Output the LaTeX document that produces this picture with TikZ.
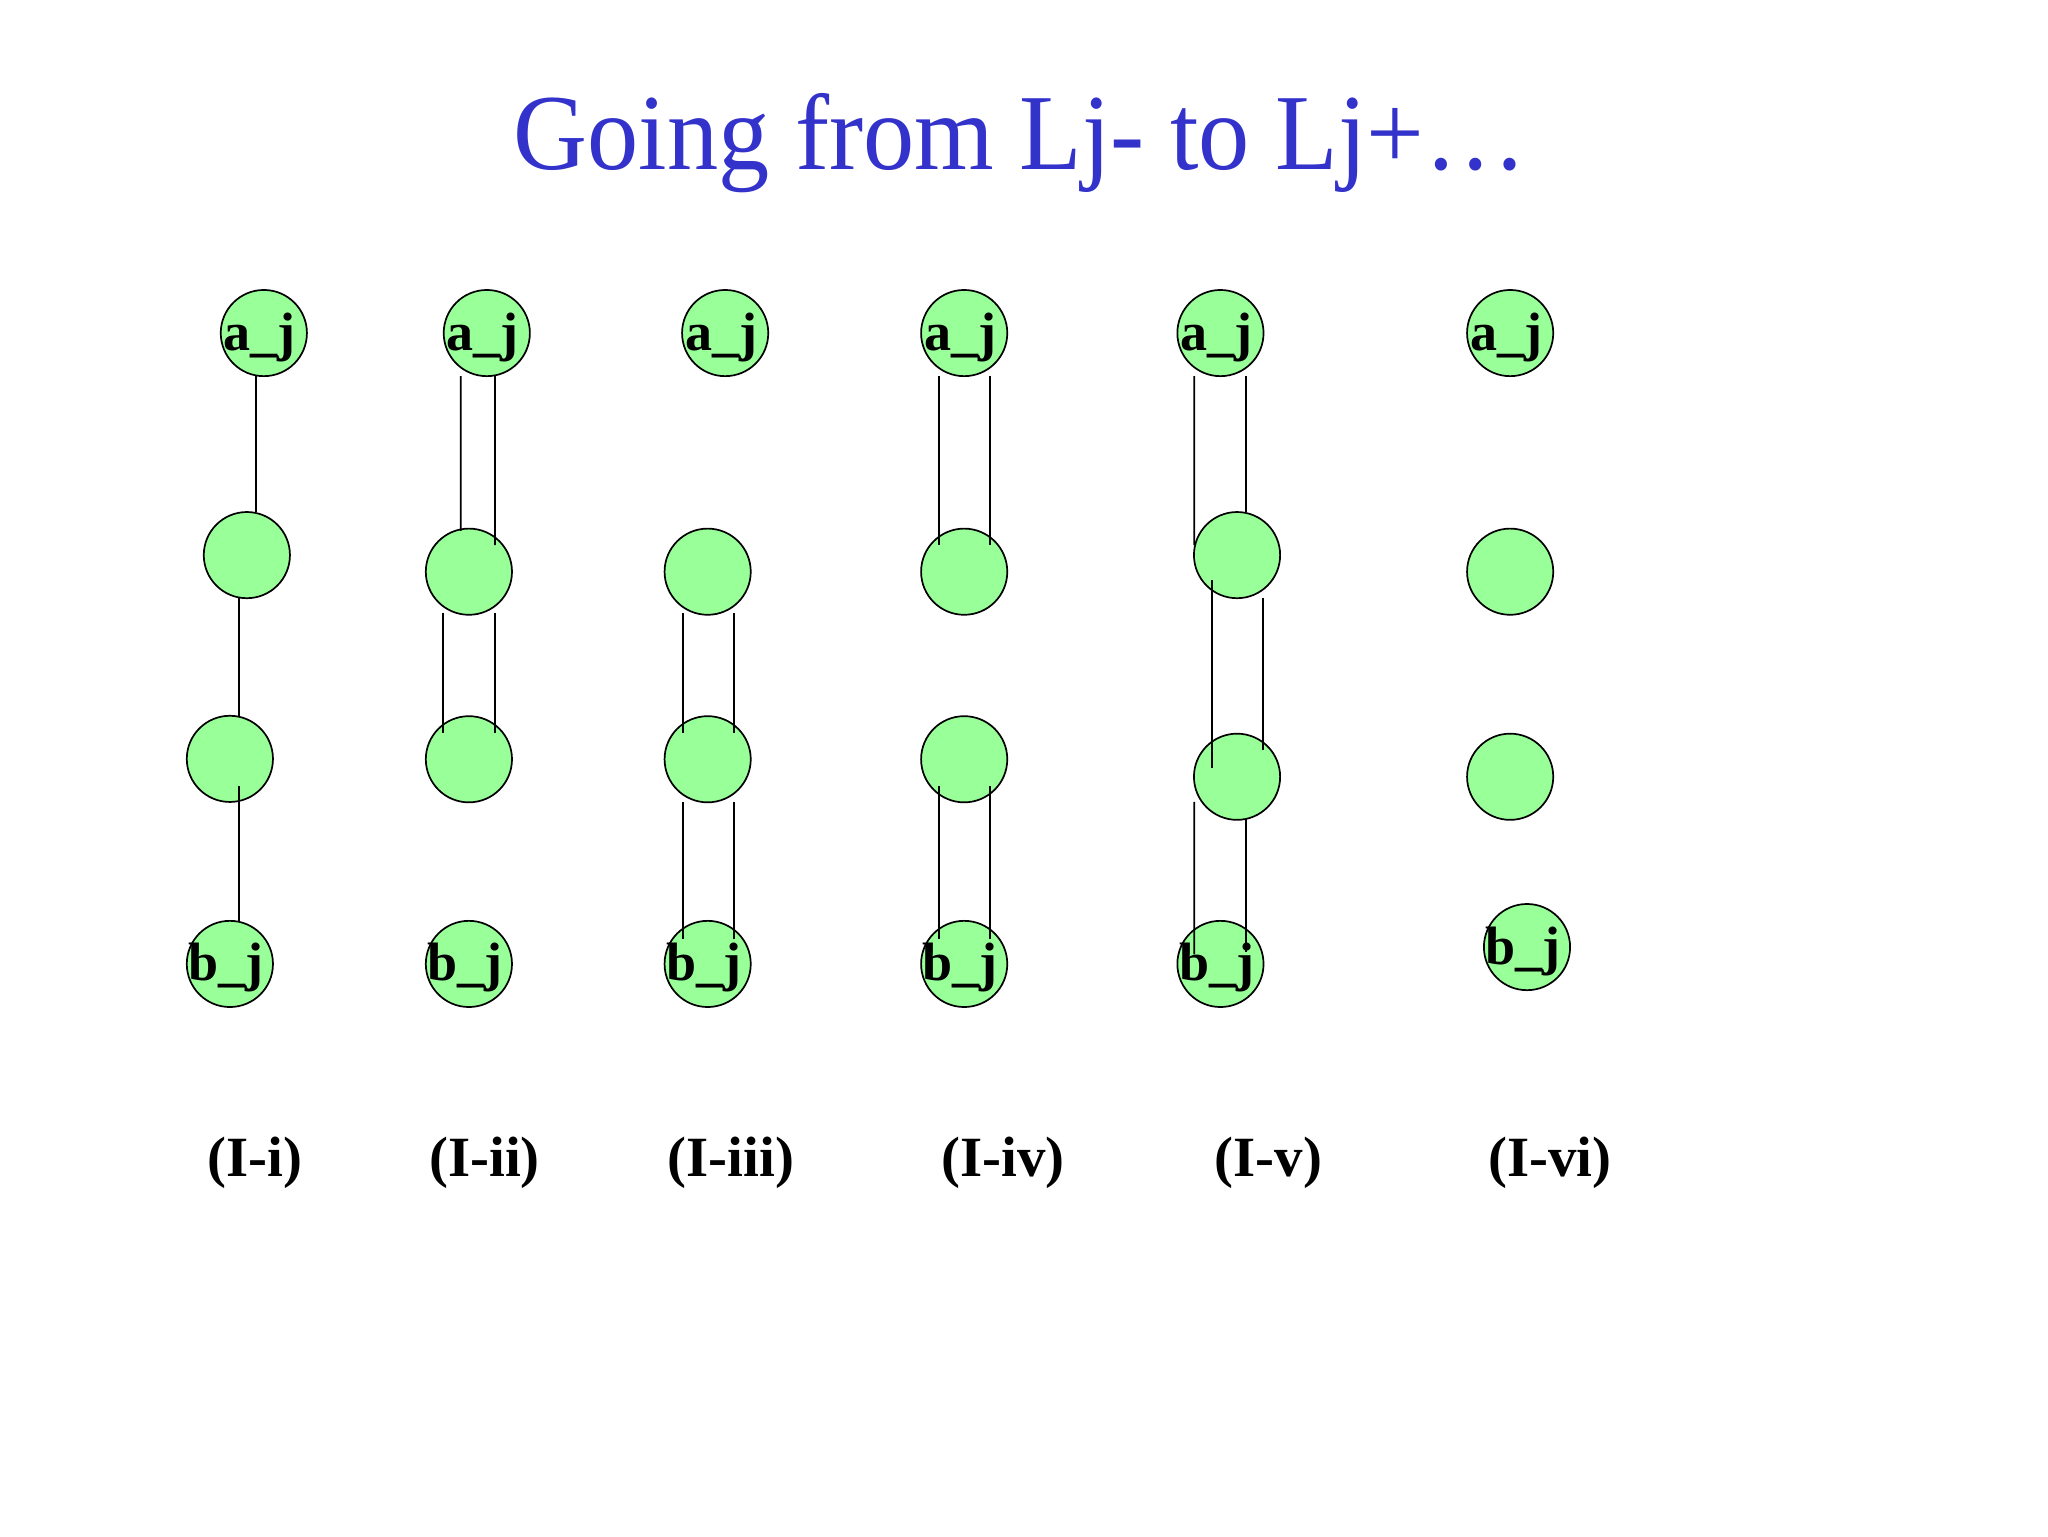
\documentclass[tikz,border=0pt]{standalone}
\usepackage{fontspec}
\setmainfont{Liberation Serif}
\newfontfamily\titlefont[FakeStretch=0.947]{Liberation Serif}
\usetikzlibrary{calc}
\definecolor{titleblue}{RGB}{51,51,204}
\definecolor{nodegreen}{RGB}{153,255,153}
\begin{document}
\begin{tikzpicture}[x=0.4592pt,y=-0.4592pt,
  vert/.style={circle,draw=black,line width=0.6pt,fill=nodegreen,minimum size=30.3pt,inner sep=0pt},
  vlabel/.style={anchor=base,inner sep=0pt,font=\fontsize{19}{19}\selectfont\bfseries},
  caselabel/.style={anchor=base,inner sep=0pt,font=\fontsize{20}{20}\selectfont\bfseries},
  conn/.style={line width=0.6pt,draw=black}]
\useasboundingbox (0,0) rectangle (1568,1176);
\node[anchor=base,inner sep=0pt,text=titleblue,font=\titlefont\fontsize{38}{38}\selectfont] (title) at (781,130) {Going from Lj- to Lj+…};
% column 1
\node[vert] (c1a) at (202,255) {};
\node[vert] (c1m) at (189,425) {};
\node[vert] (c1n) at (176,581) {};
\node[vert] (c1b) at (176,738) {};
% column 2
\node[vert] (c2a) at (372.7,255) {};
\node[vert] (c2m) at (359,437.7) {};
\node[vert] (c2n) at (359,581.3) {};
\node[vert] (c2b) at (359,738) {};
% column 3
\node[vert] (c3a) at (555.2,255) {};
\node[vert] (c3m) at (541.8,437.7) {};
\node[vert] (c3n) at (541.8,581.3) {};
\node[vert] (c3b) at (541.8,738) {};
% column 4
\node[vert] (c4a) at (738.2,255) {};
\node[vert] (c4m) at (738.2,437.7) {};
\node[vert] (c4n) at (738.2,581.3) {};
\node[vert] (c4b) at (738.2,738) {};
% column 5
\node[vert] (c5a) at (934.4,255) {};
\node[vert] (c5m) at (947.1,425) {};
\node[vert] (c5n) at (947.1,594.7) {};
\node[vert] (c5b) at (934.4,738) {};
% column 6
\node[vert] (c6a) at (1156.2,255) {};
\node[vert] (c6m) at (1156.2,437.7) {};
\node[vert] (c6n) at (1156.2,594.7) {};
\node[vert] (c6b) at (1169.1,725.1) {};
% vertex labels
\foreach \c in {c1,c2,c3,c4,c5,c6}{
  \node[vlabel] (\c alab) at ($(\c a)+(-3,13)$) {a\_j};
  \node[vlabel] (\c blab) at ($(\c b)+(-3,13)$) {b\_j};
}
% connectors column 1
\draw[conn] ($(c1a)+(-6,33)$) -- ($(c1m)+(7,-33)$);
\draw[conn] ($(c1m)+(-6,33)$) -- ($(c1n)+(7,-32)$);
\draw[conn] ($(c1n)+(7,21)$) -- ($(c1b)+(7,-32)$);
% connectors column 2
\draw[conn] ($(c2a)+(-20,33)$) -- ($(c2m)+(-6.3,-31.3)$);
\draw[conn] ($(c2a)+(6.3,33)$) -- ($(c2m)+(20,-20.3)$);
\draw[conn] ($(c2m)+(-19.6,32)$) -- ($(c2n)+(-19.6,-19.9)$);
\draw[conn] ($(c2m)+(20,32)$) -- ($(c2n)+(20,-19.9)$);
% connectors column 3
\draw[conn] ($(c3m)+(-19.1,32)$) -- ($(c3n)+(-19.1,-19.9)$);
\draw[conn] ($(c3m)+(20.2,32)$) -- ($(c3n)+(20.2,-19.9)$);
\draw[conn] ($(c3n)+(-19.1,32.7)$) -- ($(c3b)+(-19.1,-19.1)$);
\draw[conn] ($(c3n)+(20.2,32.7)$) -- ($(c3b)+(20.2,-19.1)$);
% connectors column 4
\draw[conn] ($(c4a)+(-19.2,33)$) -- ($(c4m)+(-19.2,-20.3)$);
\draw[conn] ($(c4a)+(19.8,33)$) -- ($(c4m)+(19.8,-20.3)$);
\draw[conn] ($(c4n)+(-19.2,20.4)$) -- ($(c4b)+(-19.2,-19.1)$);
\draw[conn] ($(c4n)+(19.8,20.4)$) -- ($(c4b)+(19.8,-19.1)$);
% connectors column 5
\draw[conn] ($(c5a)+(-20,33)$) -- ($(c5m)+(-32.7,-7.6)$);
\draw[conn] ($(c5a)+(19.4,33)$) -- ($(c5m)+(6.7,-33.3)$);
\draw[conn] ($(c5m)+(-19.4,19.1)$) -- ($(c5n)+(-19.4,-7)$);
\draw[conn] ($(c5m)+(19.7,32.7)$) -- ($(c5n)+(19.7,-20.5)$);
\draw[conn] ($(c5n)+(-32.7,19.3)$) -- ($(c5b)+(-20,-7.4)$);
\draw[conn] ($(c5n)+(6.7,32.6)$) -- ($(c5b)+(19.4,-9.3)$);
% case labels
\node[caselabel] (l1) at (195,901) {(I-i)};
\node[caselabel] (l2) at (371,901) {(I-ii)};
\node[caselabel] (l3) at (559.5,901) {(I-iii)};
\node[caselabel] (l4) at (768,901) {(I-iv)};
\node[caselabel] (l5) at (971,901) {(I-v)};
\node[caselabel] (l6) at (1186.5,901) {(I-vi)};
\end{tikzpicture}
\end{document}
